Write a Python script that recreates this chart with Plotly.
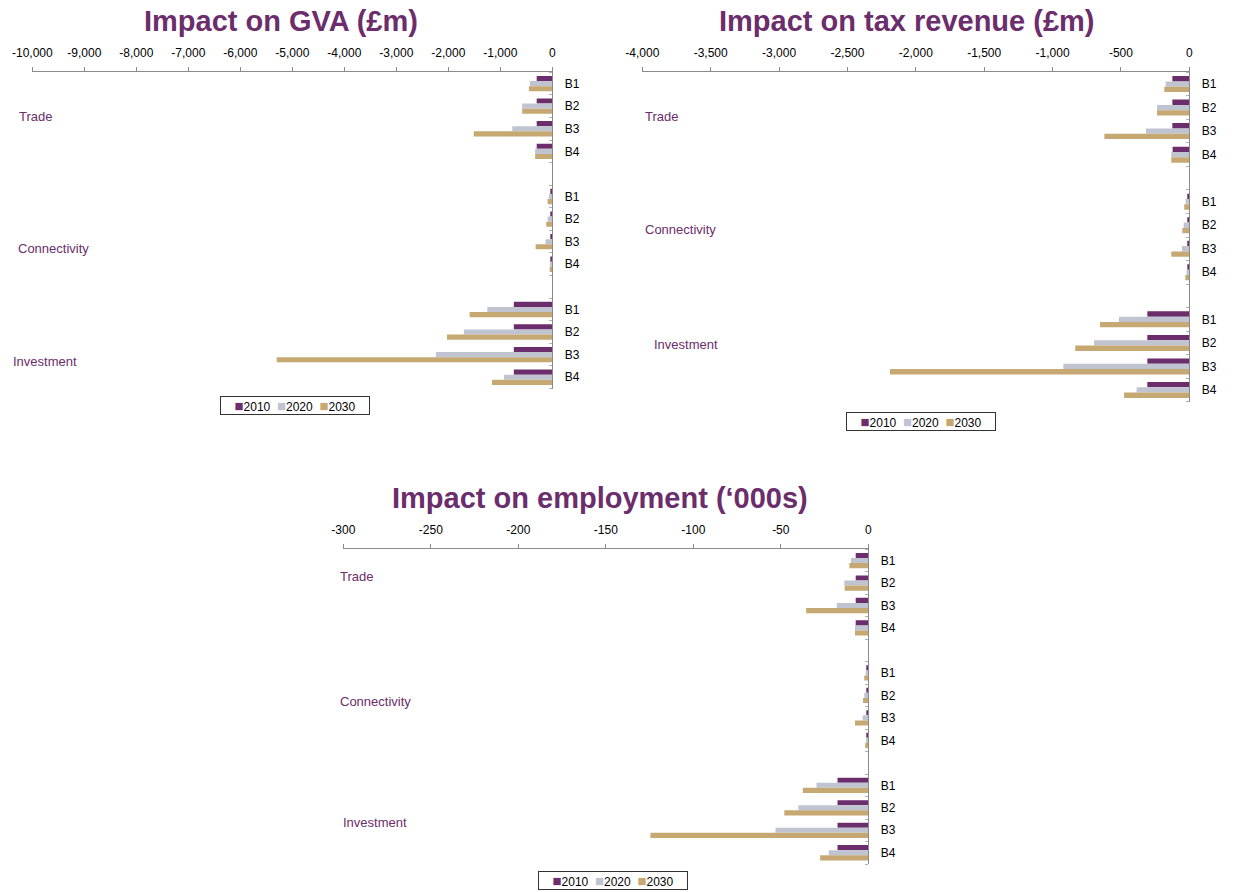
import plotly.graph_objects as go

# Categories
groups = ["Trade", "Connectivity", "Investment"]
scenarios = ["B1", "B2", "B3", "B4"]
years = ["2010", "2020", "2030"]
year_colors = ["#6B2D6B", "#C0C4D1", "#C6A873"]

# Impact on GVA (£m), ordered Trade B1-B4, Connectivity B1-B4, Investment B1-B4
gva_2010 = [-300, -300, -300, -300, -30, -30, -30, -20, -740, -740, -740, -740]
gva_2020 = [-430, -580, -770, -330, -65, -90, -130, -45, -1250, -1700, -2240, -930]
gva_2030 = [-450, -580, -1510, -330, -90, -115, -320, -50, -1590, -2025, -5300, -1160]

# Impact on tax revenue (£m)
tax_2010 = [-124, -124, -124, -122, -15, -15, -15, -12, -307, -307, -307, -307]
tax_2020 = [-173, -236, -317, -132, -27, -41, -54, -20, -514, -697, -921, -385]
tax_2030 = [-183, -236, -621, -132, -37, -51, -132, -29, -653, -834, -2189, -477]

# Impact on employment ('000s)
emp_2010 = [-7.2, -7.2, -7.2, -7.2, -1.0, -1.0, -1.0, -0.8, -17.6, -17.6, -17.6, -17.6]
emp_2020 = [-9.9, -13.7, -18.0, -7.6, -1.5, -2.3, -3.2, -1.3, -29.6, -40.0, -53.0, -22.6]
emp_2030 = [-10.8, -13.5, -35.5, -7.6, -2.3, -3.0, -7.6, -1.8, -37.4, -48.0, -124.5, -27.5]

# Value axis ticks
gva_ticks = list(range(-10000, 1, 1000))
tax_ticks = list(range(-4000, 1, 500))
emp_ticks = list(range(-300, 1, 50))

FONT = "Arial, Liberation Sans, sans-serif"
PURPLE = "#6B2D6B"
AXIS_GREY = "#8A8A8A"

# Each group takes four slots plus one empty slot as a separator
slot_pos = [g * (len(scenarios) + 1) + i for g in range(len(groups)) for i in range(len(scenarios))]
slot_text = [s for _ in groups for s in scenarios]
n_slots = len(groups) * (len(scenarios) + 1) - 1
boundaries = [k - 0.5 for k in range(n_slots + 1)]

panels = [
    dict(title="Impact on GVA (£m)", series=[gva_2010, gva_2020, gva_2030], ticks=gva_ticks,
         xdom=[32.3, 552.3], ydom=[72.3, 388.5], title_xy=(281, 21),
         group_xy=[(17, 117), (16, 248), (11, 361)], legend_xy=(295, 405)),
    dict(title="Impact on tax revenue (£m)", series=[tax_2010, tax_2020, tax_2030], ticks=tax_ticks,
         xdom=[642.3, 1189.3], ydom=[72.3, 401.7], title_xy=(907, 21),
         group_xy=[(643, 117), (643, 229), (652, 344)], legend_xy=(921, 421.5)),
    dict(title="Impact on employment (‘000s)", series=[emp_2010, emp_2020, emp_2030], ticks=emp_ticks,
         xdom=[343.3, 868.3], ydom=[549.3, 864.0], title_xy=(600, 498),
         group_xy=[(338, 576), (338, 701), (341, 822)], legend_xy=(612.5, 880.5)),
]

W, H = 1234, 892


def px_x(v):
    return v / W


def px_y(v):
    return 1 - v / H


fig = go.Figure()
annotations = []
layout = {}

for k, p in enumerate(panels):
    sfx = "" if k == 0 else str(k + 1)
    xa, ya = "x" + sfx, "y" + sfx
    for yr, col, vals in zip(years, year_colors, p["series"]):
        fig.add_trace(go.Bar(
            x=vals, y=slot_pos, orientation="h", name=yr,
            marker=dict(color=col, line=dict(width=0)),
            xaxis=xa, yaxis=ya, showlegend=False,
            hovertemplate="%{x}<extra>" + yr + "</extra>",
        ))

    layout["xaxis" + sfx] = dict(
        domain=[px_x(p["xdom"][0]), px_x(p["xdom"][1])],
        anchor=ya, side="top", automargin=False,
        range=[p["ticks"][0], 0],
        tickmode="array", tickvals=p["ticks"], ticktext=[f"{t:,}" for t in p["ticks"]],
        ticks="outside", ticklen=4, tickcolor=AXIS_GREY, ticklabelstandoff=6,
        showline=True, linecolor=AXIS_GREY, linewidth=1,
        showgrid=False, zeroline=False,
        tickfont=dict(family=FONT, size=12, color="#000000"),
        fixedrange=True,
    )
    layout["yaxis" + sfx] = dict(
        domain=[px_y(p["ydom"][1]), px_y(p["ydom"][0])],
        anchor=xa, side="right", automargin=False,
        range=[n_slots - 0.5, -0.5],
        tickmode="array", tickvals=slot_pos, ticktext=slot_text,
        ticks="", ticklabelstandoff=9,
        minor=dict(tickmode="array", tickvals=boundaries, ticks="inside",
                   ticklen=3, tickcolor="#B0B0B0", showgrid=False),
        showline=True, linecolor=AXIS_GREY, linewidth=1,
        showgrid=False, zeroline=False,
        tickfont=dict(family=FONT, size=12, color="#000000"),
        fixedrange=True,
    )

    # Panel title
    tx, ty = p["title_xy"]
    annotations.append(dict(
        text="<b>" + p["title"] + "</b>", x=px_x(tx), y=px_y(ty), xref="paper", yref="paper",
        xanchor="center", yanchor="middle", showarrow=False,
        font=dict(family=FONT, size=29, color=PURPLE),
    ))

    # Group labels on the left
    for name, (gx, gy) in zip(groups, p["group_xy"]):
        annotations.append(dict(
            text=name, x=px_x(gx), y=px_y(gy), xref="paper", yref="paper",
            xanchor="left", yanchor="middle", showarrow=False,
            font=dict(family=FONT, size=13, color=PURPLE),
        ))

    # Boxed year key under each panel
    key = "&nbsp;&nbsp;".join(
        f"<span style='color:{c};font-size:15px'>■</span>{y}" for y, c in zip(years, year_colors)
    )
    lx, ly = p["legend_xy"]
    annotations.append(dict(
        text=key, x=px_x(lx), y=px_y(ly), xref="paper", yref="paper",
        xanchor="center", yanchor="middle", showarrow=False,
        width=146, height=15, align="center",
        bordercolor="#333333", borderwidth=1, borderpad=1, bgcolor="#FFFFFF",
        font=dict(family=FONT, size=12, color="#000000"),
    ))

fig.update_layout(
    **layout,
    annotations=annotations,
    barmode="group", bargap=0.32, bargroupgap=0,
    width=W, height=H, autosize=False,
    margin=dict(l=0, r=0, t=0, b=0, autoexpand=False),
    paper_bgcolor="#FFFFFF", plot_bgcolor="#FFFFFF",
    showlegend=False,
    font=dict(family=FONT, size=12),
)

fig.write_html("out.html", include_plotlyjs=True, full_html=True,
               config={"displayModeBar": False, "responsive": False})
